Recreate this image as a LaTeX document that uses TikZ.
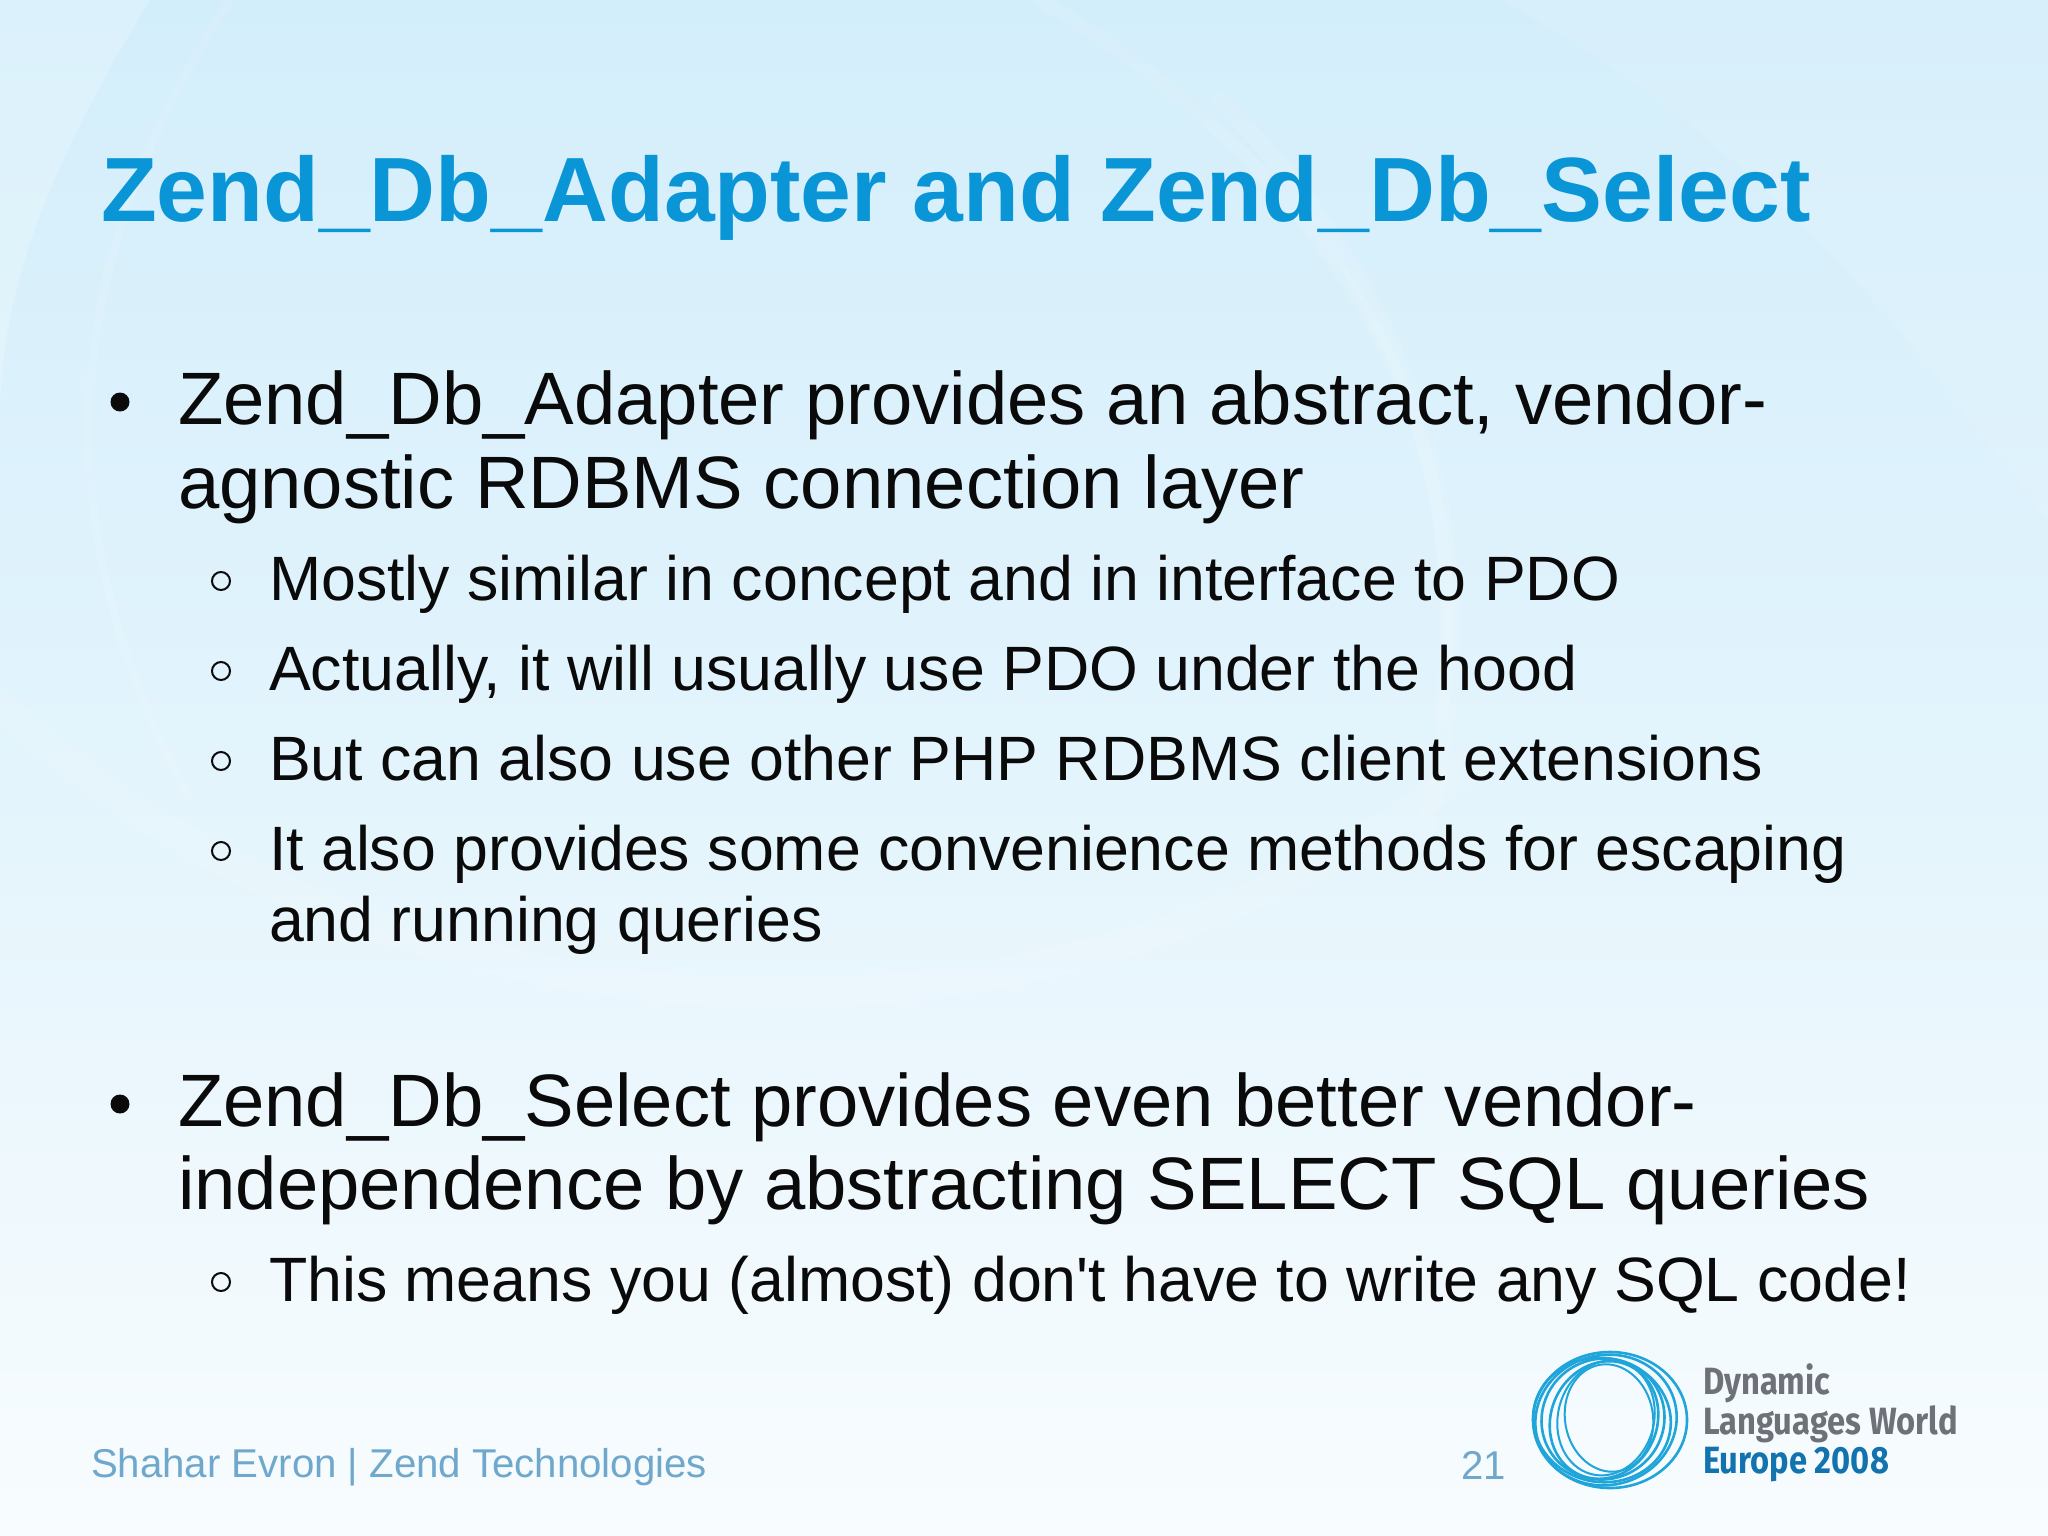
\documentclass[tikz,border=0pt]{standalone}
\usepackage{fontspec}
\setmainfont{Liberation Sans}
\newfontfamily\straightfont{Liberation Sans}
\newfontfamily\logofont[FakeStretch=0.86]{Fira Sans}
\usetikzlibrary{calc}
\definecolor{titleblue}{HTML}{0A96D6}
\definecolor{bodyink}{HTML}{0A0A0A}
\definecolor{footblue}{HTML}{6FA8CC}
\definecolor{logoblue}{HTML}{1FA5DA}
\definecolor{logogray}{HTML}{6E7278}
\definecolor{logodeep}{HTML}{1273AE}
\definecolor{bgtop}{HTML}{D3EEFB}
\definecolor{bgmid}{HTML}{E3F4FC}
\definecolor{bgbot}{HTML}{F8FCFE}
\tikzset{
  x=1pt,y=-1pt,
  txt/.style={anchor=base west,inner sep=0pt,outer sep=0pt,text=bodyink},
  titletxt/.style={txt,text=titleblue,font=\fontsize{91.3}{91}\selectfont\bfseries},
  lvlone/.style={txt,font=\fontsize{74.25}{74}\selectfont},
  lvltwo/.style={txt,font=\fontsize{62.65}{62}\selectfont},
  foot/.style={txt,text=footblue,font=\fontsize{40.2}{41}\selectfont},
  blone/.style={circle,fill=bodyink,inner sep=0pt,minimum size=19pt},
  bltwo/.style={circle,draw=bodyink,line width=2pt,inner sep=0pt,minimum size=18pt},
  ring/.style={draw=logoblue,line width=2.6pt},
  swirl/.style={draw=white,opacity=.11,line cap=round},
  logotxt/.style={txt,font=\fontsize{38}{38}\selectfont\logofont\bfseries}
}
\begin{document}
\begin{tikzpicture}
\useasboundingbox (0,0) rectangle (2048,1536);
\shade[top color=bgtop,bottom color=bgbot,middle color=bgmid,shading angle=0] (0,0) rectangle (2048,1536);
% background swirl
\fill[white,opacity=.2] (0,0) -- (150,0) .. controls (40,180) and (0,300) .. (0,420) -- cycle;
\draw[swirl,line width=30pt] (-60,640) .. controls (250,1010) and (980,1150) .. (1480,760);
\draw[swirl,line width=14pt] (1040,0) .. controls (1340,180) and (1480,420) .. (1440,720);
\draw[swirl,line width=18pt] (1220,100) .. controls (1420,300) and (1500,560) .. (1420,850);
\draw[swirl,line width=8pt] (230,0) .. controls (60,260) and (40,520) .. (190,800);
\fill[white,opacity=.1] (1500,0) .. controls (1800,160) and (1950,400) .. (2048,520) -- (2048,0) -- cycle;
% title
\node[titletxt] (title) at (101,221) {Zend\_Db\_Adapter and Zend\_Db\_Select};
% first bullet
\node[blone] (b1) at (120,402) {};
\node[lvlone] (t1a) at (178,424) {Zend\_Db\_Adapter provides an abstract, vendor-};
\node[lvlone] (t1b) at (178,508) {agnostic RDBMS connection layer};
\node[bltwo] (s1) at (221,581) {};
\node[lvltwo] (t2) at (269,600) {Mostly similar in concept and in interface to PDO};
\node[bltwo] (s2) at (221,671) {};
\node[lvltwo] (t3) at (269,690) {Actually, it will usually use PDO under the hood};
\node[bltwo] (s3) at (221,761) {};
\node[lvltwo] (t4) at (269,780) {But can also use other PHP RDBMS client extensions};
\node[bltwo] (s4) at (221,851) {};
\node[lvltwo] (t5a) at (269,870) {It also provides some convenience methods for escaping};
\node[lvltwo] (t5b) at (269,941) {and running queries};
% second bullet
\node[blone] (b2) at (120,1104) {};
\node[lvlone] (t6a) at (178,1126) {Zend\_Db\_Select provides even better vendor-};
\node[lvlone] (t6b) at (178,1209) {independence by abstracting SELECT SQL queries};
\node[bltwo] (s5) at (221,1282) {};
\node[lvltwo] (t7) at (269,1301) {\straightfont This means you (almost) don't have to write any SQL code!};
% footer
\node[foot] (ft) at (91,1477) {Shahar Evron | Zend Technologies};
\node[foot] (pg) at (1461,1479) {21};
% logo
\draw[ring] (1610,1420) ellipse [x radius=77,y radius=68];
\draw[ring] (1606,1420) ellipse [x radius=71,y radius=65,rotate=14];
\draw[ring] (1602,1420) ellipse [x radius=69,y radius=62,rotate=-10];
\draw[ring] (1603,1419) ellipse [x radius=62,y radius=60,rotate=30];
\draw[ring] (1604,1420) ellipse [x radius=60,y radius=53,rotate=65];
\draw[ring,line width=2pt] (1606,1418) ellipse [x radius=58,y radius=48,rotate=75];
\draw[ring,line width=2pt] (1609,1418) ellipse [x radius=54,y radius=44,rotate=100];
\node[logotxt,text=logogray] (l1) at (1703,1394) {Dynamic};
\node[logotxt,text=logogray] (l2) at (1703,1434) {Languages World};
\node[logotxt,text=logodeep] (l3) at (1703,1473) {Europe 2008};
\end{tikzpicture}
\end{document}
